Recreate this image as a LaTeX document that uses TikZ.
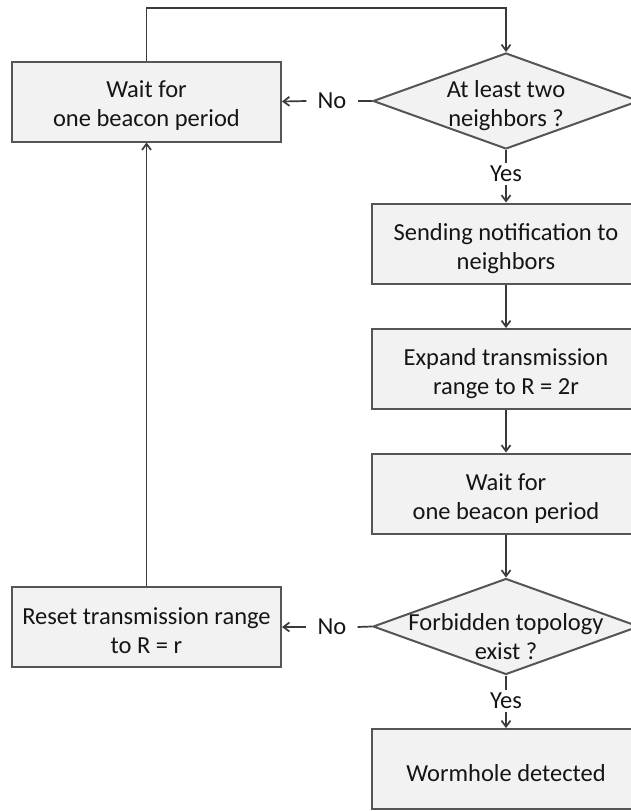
\documentclass[tikz,border=0pt]{standalone}
\usepackage{fontspec}
\setmainfont{Carlito}
\usetikzlibrary{arrows.meta,shapes.geometric}
\definecolor{boxfill}{HTML}{F2F2F2}
\definecolor{edge}{HTML}{555555}
\definecolor{wire}{HTML}{3A3A3A}
\definecolor{ink}{HTML}{151515}
\tikzset{
  procbox/.style={draw=edge, fill=boxfill, line width=2pt, minimum width=269pt, minimum height=80pt,
    inner sep=0pt},
  decbox/.style={draw=edge, fill=boxfill, line width=2pt, diamond, minimum width=266pt, minimum height=96pt,
    inner sep=0pt},
  boxtext/.style={align=center, font=\fontsize{24.5}{29}\selectfont, text=ink, inner sep=0pt},
  lbl/.style={font=\fontsize{24.5}{28}\selectfont, text=ink, inner xsep=11pt, inner ysep=3pt},
  wireline/.style={draw=wire, line width=1.7pt},
  arr/.style={wireline, -{Straight Barb[length=6pt,width=9pt,line width=1.7pt]}}
}
\begin{document}
\begin{tikzpicture}[x=1pt,y=-1pt]
\useasboundingbox (0,0) rectangle (631,811);
\clip (0,0) rectangle (631,811);
\node[procbox] (w1) at (146.5,101.5) {};
\node[boxtext] (w1t) at ([yshift=-4pt]w1.center) {Wait for\\one beacon period};
\node[decbox] (d1) at (506,101) {};
\node[boxtext] (d1t) at ([yshift=-5pt]d1.center) {At least two\\neighbors ?};
\node[lbl] (no1) at (332,101) {No};
\node[lbl] (yes1) at (506,174) {Yes};
\node[procbox] (s1) at (506,243.5) {};
\node[boxtext] (s1t) at ([yshift=-5pt]s1.center) {Sending notification to\\neighbors};
\node[procbox] (e1) at (506,369) {};
\node[boxtext] (e1t) at ([yshift=-5pt]e1.center) {Expand transmission\\range to R = 2r};
\node[procbox] (w2) at (506,493.5) {};
\node[boxtext] (w2t) at ([yshift=-5pt]w2.center) {Wait for\\one beacon period};
\node[decbox] (d2) at (506,626.5) {};
\node[boxtext] (d2t) at ([yshift=-10pt]d2.center) {Forbidden topology\\exist ?};
\node[lbl] (no2) at (332,627) {No};
\node[lbl] (yes2) at (506,701) {Yes};
\node[procbox] (r1) at (146.5,627) {};
\node[boxtext] (r1t) at ([yshift=-4pt]r1.center) {Reset transmission range\\to R = r};
\node[procbox] (wh) at (506,769) {};
\node[boxtext] (wht) at ([yshift=-4pt]wh.center) {Wormhole detected};
\coordinate (tl) at (146.5,8);
\coordinate (tr) at (506,8);
% loop from top-left box to first decision
\draw[arr] (w1.north) -- (tl) -- (tr) -- (d1.north);
\draw[wireline] (d1.west) -- (no1.east);
\draw[arr] (no1.west) -- (w1.east);
\draw[wireline] (d1.south) -- (yes1.north);
\draw[arr] (yes1.south) -- (s1.north);
\draw[arr] (s1.south) -- (e1.north);
\draw[arr] (e1.south) -- (w2.north);
\draw[arr] (w2.south) -- (d2.north);
\draw[wireline] (d2.west) -- (no2.east);
\draw[arr] (no2.west) -- (r1.east);
\draw[wireline] (d2.south) -- (yes2.north);
\draw[arr] (yes2.south) -- (wh.north);
\draw[arr] (r1.north) -- (w1.south);
\end{tikzpicture}
\end{document}
